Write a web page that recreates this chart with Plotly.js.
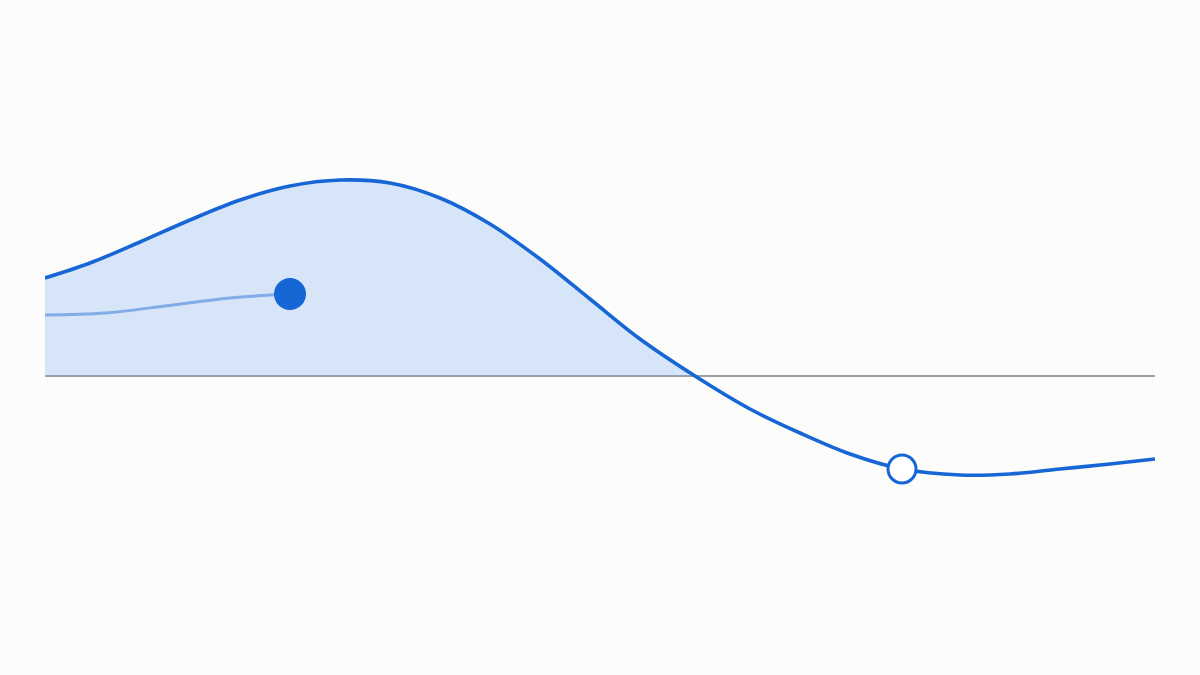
<!DOCTYPE html>
<html>
<head>
<meta charset="utf-8">
<script src="https://cdn.plot.ly/plotly-3.0.1.min.js"></script>
<style>
  html, body { margin: 0; padding: 0; background: #fcfcfb; }
  #chart { width: 1200px; height: 675px; }
</style>
</head>
<body>
<div id="chart"></div>
<script>
// main curve (x in plot units, y relative to the zero baseline)
const curveX = [0, 0.45, 0.95, 1.45, 1.95, 2.45, 2.95, 3.45, 3.95, 4.45, 4.95, 5.45, 5.95, 6.5,
                7.05, 7.55, 8.05, 8.57, 9.15, 9.65, 10.15, 10.65, 11.1];
const curveY = [0.98, 1.13, 1.34, 1.56, 1.76, 1.9, 1.96, 1.93, 1.78, 1.52, 1.17, 0.77, 0.37, 0,
                -0.33, -0.57, -0.78, -0.93, -0.99, -0.98, -0.93, -0.88, -0.83];
// how many leading points sit at or above zero (shaded part)
const positiveCount = 14;

// faint secondary line ending at the filled dot
const trailX = [0, 0.6, 1.2, 1.85, 2.45];
const trailY = [0.61, 0.63, 0.7, 0.78, 0.82];

// open marker on the main curve
const openX = [8.57];
const openY = [-0.93];

const BLUE = "#1766d6";

const shade = {
  x: curveX.slice(0, positiveCount),
  y: curveY.slice(0, positiveCount),
  type: "scatter",
  mode: "lines",
  line: { shape: "spline", smoothing: 1, width: 0, color: "rgba(0,0,0,0)" },
  fill: "tozeroy",
  fillcolor: "rgba(120, 170, 240, 0.28)",
  hoverinfo: "skip",
};

const trail = {
  x: trailX,
  y: trailY,
  type: "scatter",
  mode: "lines",
  line: { shape: "spline", smoothing: 1, width: 3, color: "rgba(23, 102, 214, 0.45)" },
  hoverinfo: "skip",
};

const dot = {
  x: trailX.slice(-1),
  y: trailY.slice(-1),
  type: "scatter",
  mode: "markers",
  marker: { size: 32, color: BLUE },
  hoverinfo: "skip",
};

const curve = {
  x: curveX,
  y: curveY,
  type: "scatter",
  mode: "lines",
  line: { shape: "spline", smoothing: 1, width: 3.6, color: BLUE },
  hoverinfo: "skip",
};

const openMark = {
  x: openX,
  y: openY,
  type: "scatter",
  mode: "markers",
  marker: { size: 28, color: "#ffffff", line: { color: BLUE, width: 3 } },
  hoverinfo: "skip",
};

const layout = {
  width: 1200,
  height: 675,
  margin: { l: 45, r: 45, t: 0, b: 0, pad: 0 },
  paper_bgcolor: "#fcfcfb",
  plot_bgcolor: "#fcfcfb",
  showlegend: false,
  xaxis: { range: [0, 11.1], visible: false, fixedrange: true },
  yaxis: { range: [-2.99, 3.76], visible: false, fixedrange: true },
  shapes: [
    // zero baseline
    {
      type: "line",
      xref: "x",
      yref: "y",
      x0: 0,
      x1: 11.1,
      y0: 0,
      y1: 0,
      line: { color: "#a0a0a0", width: 2 },
      layer: "below",
    },
  ],
};

Plotly.newPlot("chart", [shade, trail, curve, dot, openMark], layout, {
  staticPlot: true,
  displayModeBar: false,
});
</script>
</body>
</html>
